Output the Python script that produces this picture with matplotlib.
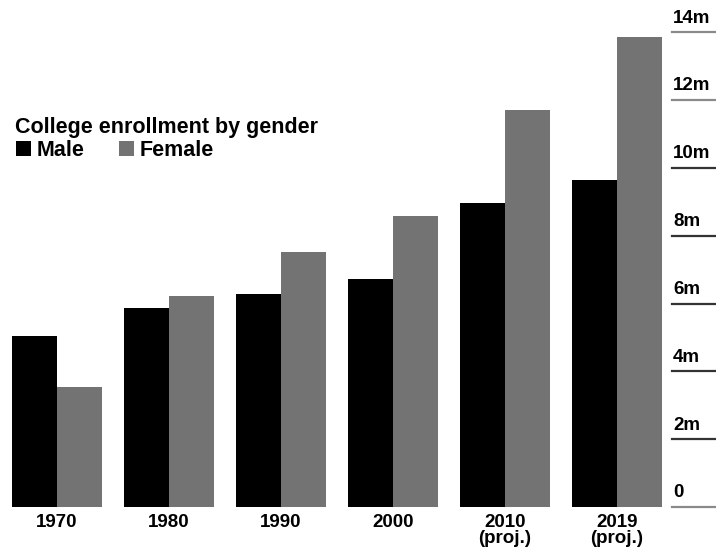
import matplotlib
matplotlib.use('Agg')
import matplotlib.pyplot as plt
import numpy as np

# College enrollment, millions of students
years = ['1970', '1980', '1990', '2000', '2010\n(proj.)', '2019\n(proj.)']
male = [5.04, 5.87, 6.28, 6.72, 8.95, 9.65]
female = [3.54, 6.22, 7.53, 8.59, 11.7, 13.85]
yticks = [0, 2, 4, 6, 8, 10, 12, 14]
ylabels = ['0', '2m', '4m', '6m', '8m', '10m', '12m', '14m']

plt.rcParams['font.family'] = ['Liberation Sans', 'DejaVu Sans']
plt.rcParams['font.weight'] = 'bold'

W, H = 716, 554
fig = plt.figure(figsize=(W / 100, H / 100), dpi=100)
# axes from pixel x=12 to right edge, baseline at y=507
ax = fig.add_axes([12 / W, (H - 507) / H, 1 - 12 / W, 507 / H])

x = np.arange(len(years))
bw = 0.40
b1 = ax.bar(x - bw / 2, male, bw, color='black', label='Male')
b2 = ax.bar(x + bw / 2, female, bw, color='#737373', label='Female')

pitch = 112.0
xmax = -0.4 + (W - 12) / pitch
ax.set_xlim(-0.4, xmax)
ax.set_ylim(0, 14.95)

# right-hand scale: short rules with the label sitting on top
x0 = (672 - 57) / pitch
for v, lab in zip(yticks, ylabels):
    col = '#8a8a8a' if v in (0, 14, 12) else '#333333'
    ax.plot([x0, xmax], [v, v], color=col, lw=1.6, clip_on=False)
    ax.annotate(lab, (x0 + 0.01, v), xytext=(0, 4), textcoords='offset points',
                ha='left', va='bottom', fontsize=13.5, fontweight='bold')

for i, lab in enumerate(years):
    ax.annotate(lab, (x[i], 0), xytext=(0, -5), textcoords='offset points',
                ha='center', va='top', fontsize=13.5, fontweight='bold',
                linespacing=0.9)

ax.axis('off')

fig.text(15 / W, 1 - 133 / H, 'College enrollment by gender', fontsize=15.5,
         fontweight='bold', ha='left', va='baseline')
leg = ax.legend(handles=[b1, b2], loc='upper left',
                bbox_to_anchor=(16 / W, 1 - 140 / H),
                bbox_transform=fig.transFigure, ncol=2, frameon=False,
                fontsize=15.5, handlelength=0.7, handleheight=0.7,
                handletextpad=0.25, columnspacing=1.62,
                borderpad=0, borderaxespad=0)

fig.savefig('out.png', dpi=100)
